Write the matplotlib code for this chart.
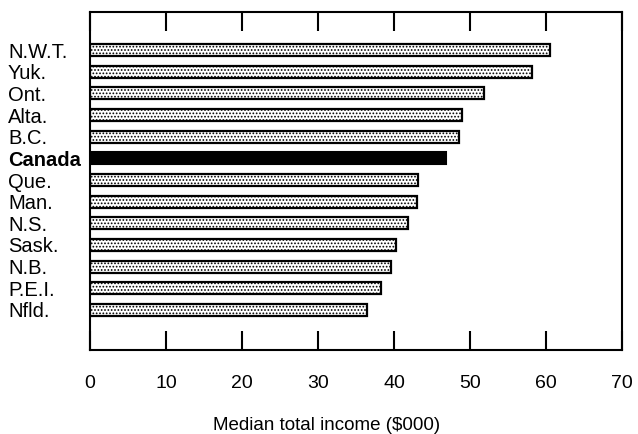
import numpy as np
import matplotlib.pyplot as plt

plt.rcParams['font.family'] = ['Liberation Sans', 'DejaVu Sans']
plt.rcParams['hatch.color'] = '#8a8a8a'
plt.rcParams['hatch.linewidth'] = 0.8

# dane z wykresu
regiony = ['N.W.T.', 'Yuk.', 'Ont.', 'Alta.', 'B.C.', 'Canada', 'Que.',
           'Man.', 'N.S.', 'Sask.', 'N.B.', 'P.E.I.', 'Nfld.']
dochod = [60.5, 58.1, 51.8, 49.0, 48.6, 46.8, 43.2,
          43.0, 41.8, 40.3, 39.6, 38.3, 36.5]
x_ticks = [0, 10, 20, 30, 40, 50, 60, 70]

fig = plt.figure(figsize=(6.38, 4.34), dpi=100)
ax = fig.add_axes([0.141, 0.1935, 0.834, 0.7785])

pozycje = np.arange(len(regiony))
for i, (nazwa, wartosc) in enumerate(zip(regiony, dochod)):
    if nazwa == 'Canada':
        ax.barh(i, wartosc, height=0.56, color='black', edgecolor='black', linewidth=1.5)
    else:
        ax.barh(i, wartosc, height=0.56, color='white', edgecolor='black',
                linewidth=1.6, hatch='.....')

ax.set_xlim(0, 70)
ax.set_ylim(13.85, -1.75)
ax.set_xticks(x_ticks)
ax.set_yticks(pozycje)
ax.set_yticklabels(regiony, fontsize=14.5)
for etykieta in ax.get_yticklabels():
    etykieta.set_horizontalalignment('left')
    if etykieta.get_text() == 'Canada':
        etykieta.set_fontweight('bold')
ax.tick_params(axis='y', length=0, pad=59)
ax.tick_params(axis='x', direction='in', length=14, width=1.5, top=True,
               bottom=True, labelsize=14, pad=18)
for s in ax.spines.values():
    s.set_linewidth(1.5)

ax.set_xlabel('Median total income ($000)', fontsize=13.5, va='center')
ax.xaxis.set_label_coords(0.445, -0.222)

fig.savefig('out.png', dpi=100)
